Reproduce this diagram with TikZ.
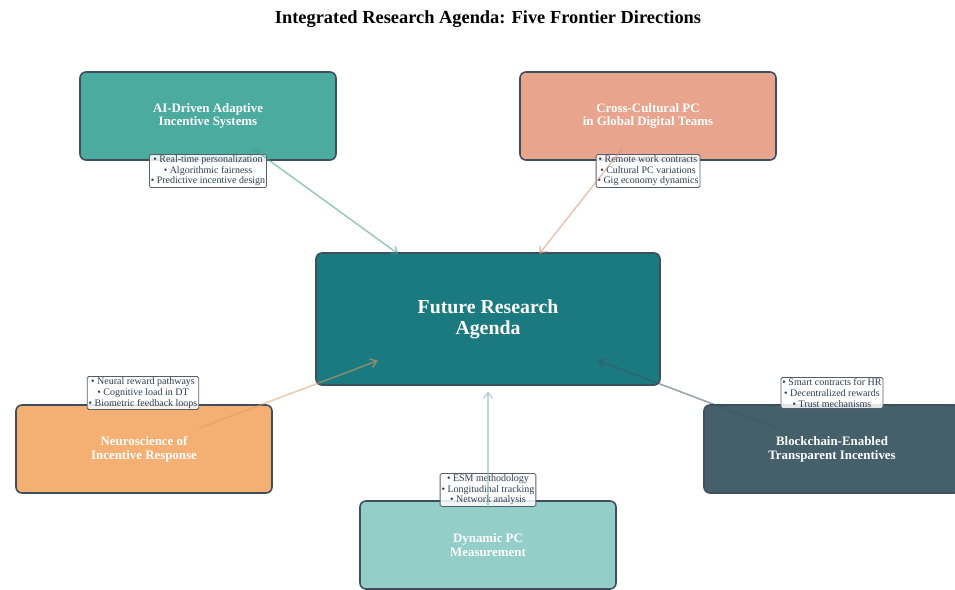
\documentclass[tikz,border=0pt]{standalone}
\usepackage{fontspec}
\setmainfont{Liberation Serif}
\usetikzlibrary{arrows.meta,calc}
\definecolor{aicol}{RGB}{74,171,158}
\definecolor{crosscol}{RGB}{232,164,140}
\definecolor{agendacol}{RGB}{27,122,128}
\definecolor{neurocol}{RGB}{244,175,114}
\definecolor{chaincol}{RGB}{69,96,107}
\definecolor{dyncol}{RGB}{148,206,200}
\definecolor{edge}{RGB}{61,79,92}
\definecolor{notegray}{RGB}{85,95,105}
\definecolor{notetext}{RGB}{44,62,80}
\begin{document}
\begin{tikzpicture}[x=1pt,y=-1pt,
  area/.style={draw=edge,line width=1.6pt,rounded corners=6pt,minimum width=256pt,
    minimum height=88pt,text=white,align=center,
    font=\fontsize{12.9}{13.8}\selectfont\bfseries},
  notes/.style={draw=notegray,fill=white,fill opacity=0.85,text opacity=1,
    rounded corners=1.5pt,inner sep=1.4pt,line width=0.8pt,text=notetext,align=center,
    font=\fontsize{10}{10.6}\selectfont},
  link/.style={line width=1.5pt,draw opacity=0.55,-{Straight Barb[length=6pt,width=9pt]}}]
\useasboundingbox (0,0) rectangle (955,589);
\clip (0,0) rectangle (955,589);
\node (title) at (488,19) {\fontsize{18.4}{20}\selectfont\bfseries Integrated Research Agenda: Five Frontier Directions};
% main boxes
\node[area,fill=agendacol,minimum width=344pt,minimum height=132pt,
  font=\fontsize{19.8}{21}\selectfont\bfseries] (agenda) at (488,319) {Future Research\\Agenda};
\node[area,fill=aicol] (ai) at (208,116) {AI-Driven Adaptive\\Incentive Systems};
\node[area,fill=crosscol] (cross) at (648,116) {Cross-Cultural PC\\in Global Digital Teams};
\node[area,fill=neurocol] (neuro) at (144,449) {Neuroscience of\\Incentive Response};
\node[area,fill=chaincol] (chain) at (832,449) {Blockchain-Enabled\\Transparent Incentives};
\node[area,fill=dyncol] (dyn) at (488,545) {Dynamic PC\\Measurement};
% bullet notes
\node[notes] (aiN) at (208,171) {• Real-time personalization\\• Algorithmic fairness\\• Predictive incentive design};
\node[notes] (crossN) at (648,171) {• Remote work contracts\\• Cultural PC variations\\• Gig economy dynamics};
\node[notes] (neuroN) at (143,393) {• Neural reward pathways\\• Cognitive load in DT\\• Biometric feedback loops};
\node[notes] (chainN) at (832,393) {• Smart contracts for HR\\• Decentralized rewards\\• Trust mechanisms};
\node[notes] (dynN) at (488,490) {• ESM methodology\\• Longitudinal tracking\\• Network analysis};
% links
\foreach \n/\c in {ai/aicol,cross/crosscol,neuro/neurocol,chain/chaincol,dyn/dyncol}
  \draw[link,draw=\c!90!black] ($(\n)!0.16!(agenda)$) -- ($(\n)!0.68!(agenda)$);
\end{tikzpicture}
\end{document}
